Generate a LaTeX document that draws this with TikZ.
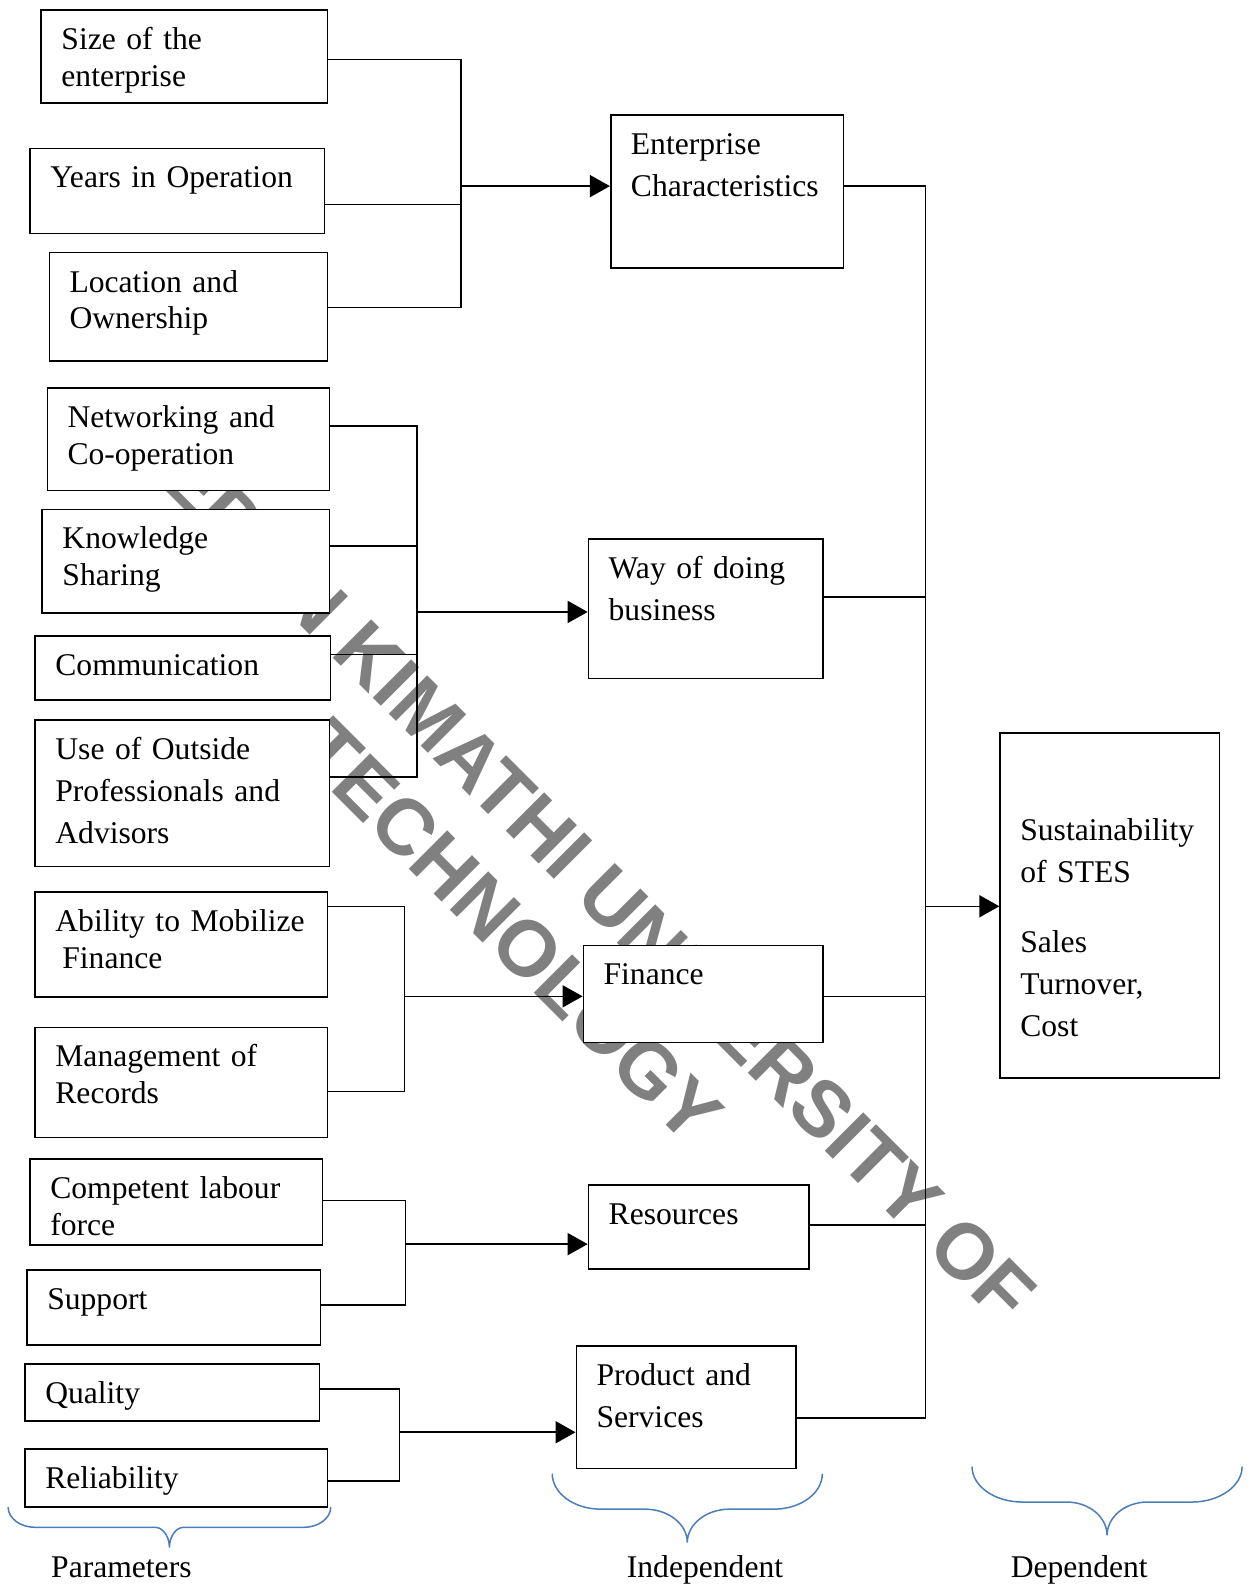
\documentclass[tikz,border=0pt]{standalone}
\usepackage{fontspec}
\setmainfont{Liberation Serif}
\newfontfamily\wmfont{Liberation Sans}
\usetikzlibrary{arrows.meta}
\definecolor{bracecol}{RGB}{74,126,187}
\definecolor{wmgray}{RGB}{128,128,128}

\begin{document}
\begin{tikzpicture}[x=0.5057pt, y=-0.5057pt, line width=0.8pt,
  box/.style={draw, fill=white, anchor=north west, align=left,
    inner xsep=10.1pt, inner ysep=4pt, text height=15.7pt,
    font=\fontsize{15.8}{18.4}\selectfont},
  wide/.style={font=\fontsize{15.8}{21}\selectfont},
  arr/.style={-{Triangle[length=10pt,width=11pt]}},
  curly/.style={bracecol, line width=0.75pt},
  lab/.style={anchor=base, font=\fontsize{15.8}{18.4}\selectfont}]
  \useasboundingbox (0,0) rectangle (1235,1568);

  % watermark behind everything
  \node[wmgray, rotate=-45, align=center,
    font=\wmfont\bfseries\fontsize{39.5}{47.5}\selectfont] (wm) at (538,888)
    {DEDAN KIMATHI UNIVERSITY OF\\TECHNOLOGY};

  % parameters (left column)
  \node[box, text width=122.9pt, text depth=22.8pt] (size) at (40,9) {Size of the\\enterprise};
  \node[box, text width=127.0pt, text depth=18.8pt] (years) at (29,146) {Years in Operation};
  \node[box, text width=118.9pt, text depth=30.4pt] (loc) at (48,249) {Location and\\Ownership};
  \node[box, text width=120.9pt, text depth=27.4pt] (net) at (46,383) {Networking and\\Co-operation};
  \node[box, text width=123.4pt, text depth=27.9pt] (know) at (41,503) {Knowledge\\Sharing};
  \node[box, text width=127.5pt, text depth=8.2pt] (comm) at (34,628) {Communication};
  \node[box, wide, text width=127.0pt, text depth=49.6pt] (use) at (34,711) {Use of Outside\\Professionals and\\Advisors};
  \node[box, text width=125.9pt, text depth=28.9pt] (abil) at (34,881) {Ability to Mobilize\\\hspace*{3.5pt}Finance};
  \node[box, text width=125.9pt, text depth=31.4pt] (mgmt) at (34,1015) {Management of\\Records};
  \node[box, text width=125.9pt, text depth=19.3pt] (comp) at (29,1145) {Competent labour\\force};
  \node[box, text width=126.5pt, text depth=13.7pt] (supp) at (26,1255) {Support};
  \node[box, text width=127.0pt, text depth=4.6pt] (qual) at (24,1348) {Quality};
  \node[box, text width=131.0pt, text depth=5.1pt] (rel) at (24,1432) {Reliability};

  % independent variables (middle column)
  \node[box, wide, text width=96.1pt, text depth=52.7pt] (ent) at (603,113) {Enterprise\\Characteristics};
  \node[box, wide, text width=97.1pt, text depth=46.1pt] (way) at (581,532) {Way of doing\\business};
  \node[box, text width=99.7pt, text depth=24.8pt] (fin) at (576,934) {Finance};
  \node[box, text width=90.0pt, text depth=18.3pt] (res) at (581,1171) {Resources};
  \node[box, wide, text width=89.5pt, text depth=37.5pt] (prod) at (569,1330) {Product and\\Services};

  % dependent variable
  \node[box, wide, text width=89.5pt, text height=49.6pt, text depth=114.8pt] (sus) at (988,724)
    {Sustainability\\of STES\\[13.9pt]Sales\\Turnover,\\Cost};

  % junctions
  \coordinate (j1) at (456,184);
  \coordinate (j2) at (412,605);
  \coordinate (j3) at (400,985);
  \coordinate (j4) at (401,1230);
  \coordinate (j5) at (395,1416);
  \coordinate (j6) at (915,896);

  \draw (size.east |- 0,59) -| (j1);
  \draw (years.east |- 0,202) -| (j1);
  \draw (loc.east |- 0,304) -| (j1);
  \draw[arr] (j1) -- (j1 -| ent.west);

  \draw (net.east |- 0,421) -| (j2);
  \draw (know.east |- 0,540) -| (j2);
  \draw (comm.east |- 0,647) -| (j2);
  \draw (use.east |- 0,768) -| (j2);
  \draw[arr] (j2) -- (j2 -| way.west);

  \draw (abil.east |- 0,896) -| (j3);
  \draw (mgmt.east |- 0,1079) -| (j3);
  \draw[arr] (j3) -- (j3 -| fin.west);

  \draw (comp.east |- 0,1187) -| (j4);
  \draw (supp.east |- 0,1290) -| (j4);
  \draw[arr] (j4) -- (j4 -| res.west);

  \draw (qual.east |- 0,1373) -| (j5);
  \draw (rel.east |- 0,1464) -| (j5);
  \draw[arr] (j5) -- (j5 -| prod.west);

  \draw (ent.east |- 0,184) -| (j6);
  \draw (way.east |- 0,590) -| (j6);
  \draw (fin.east |- 0,985) -| (j6);
  \draw (res.east |- 0,1211) -| (j6);
  \draw (prod.east |- 0,1402) -| (j6);
  \draw[arr] (j6) -- (j6 -| sus.west);

  % braces
  \draw[curly] (8,1490) .. controls (8,1501) and (20,1510) .. (35,1510) -- (153.5,1510)
    .. controls (161,1510) and (167.5,1519) .. (167.5,1530)
    .. controls (167.5,1519) and (174,1510) .. (181.5,1510) -- (300,1510)
    .. controls (315,1510) and (327,1501) .. (327,1490);
  \draw[curly] (546,1457) .. controls (546,1476) and (567,1492) .. (594,1492) -- (637.5,1492)
    .. controls (661,1492) and (679.5,1507) .. (679.5,1525)
    .. controls (679.5,1507) and (698,1492) .. (721.5,1492) -- (765,1492)
    .. controls (792,1492) and (813,1476) .. (813,1457);
  \draw[curly] (961,1450) .. controls (961,1469) and (983,1485) .. (1011,1485) -- (1054.5,1485)
    .. controls (1077,1485) and (1094.5,1500) .. (1094.5,1518)
    .. controls (1094.5,1500) and (1112,1485) .. (1134.5,1485) -- (1178,1485)
    .. controls (1206,1485) and (1228,1469) .. (1228,1450);

  \node[lab] (lpar) at (120,1560) {Parameters};
  \node[lab] (lind) at (697,1560) {Independent};
  \node[lab] (ldep) at (1067,1560) {Dependent};
\end{tikzpicture}
\end{document}
